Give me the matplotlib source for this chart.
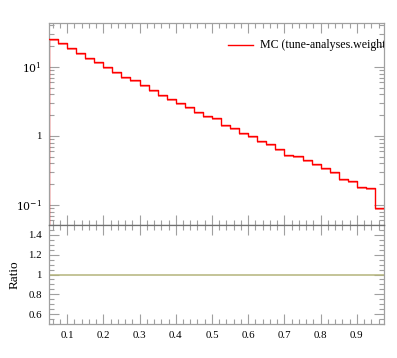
import numpy as np
import matplotlib
matplotlib.use("Agg")
import matplotlib.pyplot as plt
from matplotlib.ticker import FixedLocator, MultipleLocator, NullFormatter, FixedFormatter

# Data
bin_edges = np.round(np.arange(0.05, 0.9751, 0.025), 4)
mc_values = [25.5, 22.0, 18.8, 16.1, 13.7, 11.7, 9.9, 8.47, 7.17, 6.41,
             5.48, 4.69, 3.97, 3.47, 2.98, 2.63, 2.25, 1.97, 1.80, 1.44,
             1.29, 1.12, 1.01, 0.83, 0.77, 0.655, 0.536, 0.508, 0.454, 0.388,
             0.347, 0.297, 0.235, 0.223, 0.184, 0.178, 0.0895]
ratio_values = [1.0] * len(mc_values)
legend_label = "MC (tune-analyses.weight)"
x_ticks = [0.1, 0.2, 0.3, 0.4, 0.5, 0.6, 0.7, 0.8, 0.9]
x_tick_labels = ["0.1", "0.2", "0.3", "0.4", "0.5", "0.6", "0.7", "0.8", "0.9"]
y_major = [0.1, 1, 10]
y_major_labels = [r"$10^{-1}$", "1", r"$10^{1}$"]
ratio_ticks = [0.6, 0.8, 1.0, 1.2, 1.4]
ratio_tick_labels = ["0.6", "0.8", "1", "1.2", "1.4"]

plt.rcParams['font.family'] = ['Liberation Serif', 'DejaVu Serif']
plt.rcParams['mathtext.fontset'] = 'dejavuserif'

W, H = 397, 358
fig = plt.figure(figsize=(W / 100, H / 100), dpi=100)
L, R = 49 / W, 384 / W
top_main = 1 - 23.3 / H
mid = 1 - 225 / H
bot = 1 - 324 / H
ax = fig.add_axes([L, mid, R - L, top_main - mid])
axr = fig.add_axes([L, bot, R - L, mid - bot])

tc = '#a0a0a0'
vals = np.array(mc_values)
edges = np.array(bin_edges)
yv = np.append(vals, vals[-1])
ax.fill_between(edges, yv * 0.935, yv, step='post', color='#ff8c8c', lw=0, zorder=2)
ax.step(edges, yv, where='post', color='red', lw=1.0, zorder=3)
ax.vlines([edges[0]], 0, vals[0], color='red', lw=1.0)

ax.set_yscale('log')
ax.set_xlim(0.05, 0.975)
ax.set_ylim(0.051, 43)

ax.yaxis.set_major_locator(FixedLocator(y_major))
ax.yaxis.set_major_formatter(FixedFormatter(y_major_labels))
minor = [m * 10.0 ** e for e in (-2, -1, 0, 1) for m in range(2, 10)]
ax.yaxis.set_minor_locator(FixedLocator(minor))
ax.yaxis.set_minor_formatter(NullFormatter())

for a in (ax, axr):
    a.xaxis.set_major_locator(FixedLocator(x_ticks))
    a.xaxis.set_minor_locator(MultipleLocator(0.02))
    a.tick_params(which='both', direction='in', top=True, right=True, color=tc,
                  labelsize=7.8, pad=5, width=0.8)
    a.tick_params(which='major', length=7.5)
    a.tick_params(which='minor', length=3.8)
    for s in a.spines.values():
        s.set_color(tc)
        s.set_linewidth(0.9)
ax.tick_params(axis='x', labelbottom=False)
ax.spines['bottom'].set_color('#707070')
axr.spines['top'].set_color('#707070')

axr.set_xlim(0.05, 0.975)
axr.set_ylim(0.5, 1.5)
axr.xaxis.set_major_formatter(FixedFormatter(x_tick_labels))
axr.yaxis.set_major_locator(FixedLocator(ratio_ticks))
axr.yaxis.set_major_formatter(FixedFormatter(ratio_tick_labels))
axr.yaxis.set_minor_locator(MultipleLocator(0.05))
rv = np.append(ratio_values, ratio_values[-1])
axr.step(edges, rv, where='post', color='#b4b47c', lw=1.1)
axr.set_ylabel('Ratio', fontsize=9.5)
axr.yaxis.set_label_coords(-0.085, 0.5)

# legend drawn manually so it clips at the axes edge
ax.plot([0.5345, 0.609], [0.8904, 0.8904], transform=ax.transAxes, color='red', lw=1.0, clip_on=True)
ax.text(0.63, 0.8904, legend_label, transform=ax.transAxes, va='center', ha='left',
        fontsize=8.6, clip_on=True)

fig.savefig('out.png', dpi=100)
